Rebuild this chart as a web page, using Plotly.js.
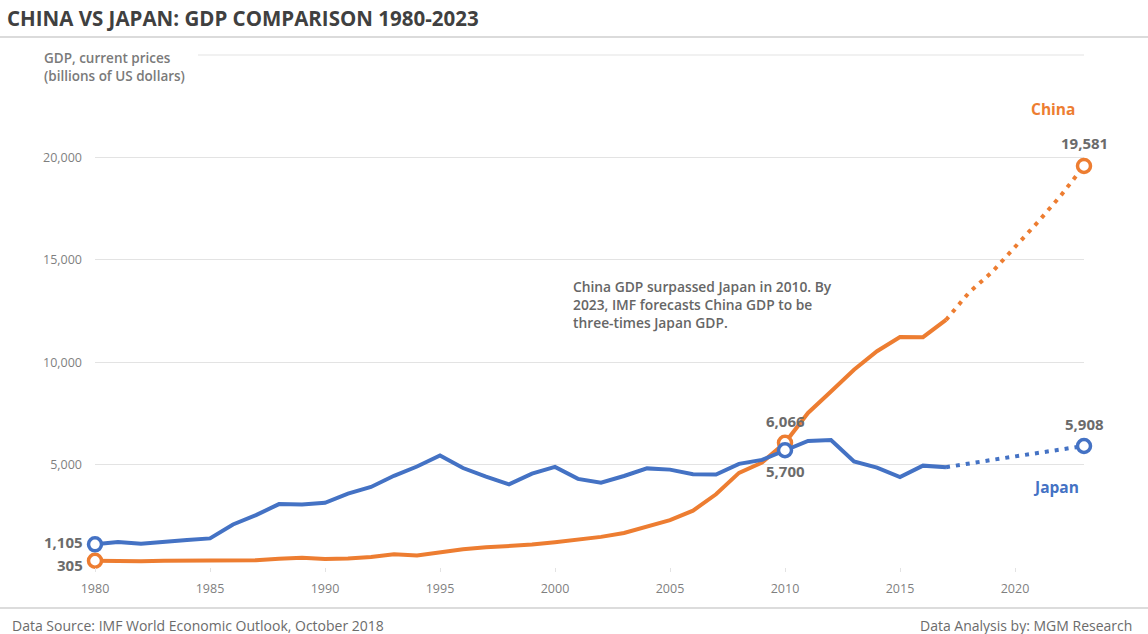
<!DOCTYPE html>
<html>
<head>
<meta charset="utf-8">
<script src="https://cdn.plot.ly/plotly-3.0.1.min.js"></script>
<style>html,body{margin:0;padding:0;background:#fff;}#chart{width:1148px;height:634px;}</style>
</head>
<body>
<div id="chart"></div>
<script>
// ---- data (billions of US dollars, current prices) ----
const years = [1980,1981,1982,1983,1984,1985,1986,1987,1988,1989,1990,1991,1992,1993,1994,1995,1996,1997,1998,1999,2000,2001,2002,2003,2004,2005,2006,2007,2008,2009,2010,2011,2012,2013,2014,2015,2016,2017,2018,2019,2020,2021,2022,2023];
const japanGDP = [1105,1218,1134,1243,1318,1398,2078,2532,3072,3055,3133,3585,3909,4454,4907,5449,4834,4415,4033,4562,4888,4304,4115,4445,4815,4755,4530,4515,5038,5231,5700,6157,6203,5156,4850,4395,4949,4872,5071,5230,5400,5560,5740,5908];
const chinaGDP = [305,288,284,306,315,310,301,327,408,457,395,415,493,617,564,734,863,962,1029,1094,1211,1339,1471,1660,1955,2286,2752,3550,4594,5102,6066,7522,8570,9635,10535,11226,11222,12062,13400,14400,15600,16850,18150,19581];
const lastActualYear = 2017;
const highlightYears = [1980, 2010, 2023];
const yTickVals = [0,5000,10000,15000,20000,25000];
const yTickText = ['','5,000','10,000','15,000','20,000',''];
const xTickVals = [1980,1985,1990,1995,2000,2005,2010,2015,2020];

const BLUE = '#4472C4', ORANGE = '#ED7D31', GRAY = '#7f7f7f';

function split(vals){
  const ax=[],ay=[],fx=[],fy=[];
  years.forEach((y,i)=>{
    if(y<=lastActualYear){ax.push(y);ay.push(vals[i]);}
    if(y>=lastActualYear){fx.push(y);fy.push(vals[i]);}
  });
  return {ax,ay,fx,fy};
}
function pts(vals){
  const x=[],y=[];
  highlightYears.forEach(h=>{const i=years.indexOf(h);x.push(h);y.push(vals[i]);});
  return {x,y};
}
function fmt(v){return v.toLocaleString('en-US');}

const c = split(chinaGDP), j = split(japanGDP);
const cp = pts(chinaGDP), jp = pts(japanGDP);

const traces = [
  {x:c.ax,y:c.ay,mode:'lines',line:{color:ORANGE,width:4},hoverinfo:'skip'},
  {x:c.fx,y:c.fy,mode:'lines',line:{color:ORANGE,width:4,dash:'4px,6px'},hoverinfo:'skip'},
  {x:cp.x,y:cp.y,mode:'markers',cliponaxis:false,marker:{size:13,color:'#fff',line:{color:ORANGE,width:3.5}},hoverinfo:'skip'},
  {x:j.ax,y:j.ay,mode:'lines',line:{color:BLUE,width:4},hoverinfo:'skip'},
  {x:j.fx,y:j.fy,mode:'lines',line:{color:BLUE,width:4,dash:'4px,6px'},hoverinfo:'skip'},
  {x:jp.x,y:jp.y,mode:'markers',cliponaxis:false,marker:{size:13,color:'#fff',line:{color:BLUE,width:3.5}},hoverinfo:'skip'}
];

const FONT = 'Open Sans, Liberation Sans, sans-serif';
const lblFont = {family:FONT,size:15,color:'#6b6b6b',weight:700};

const L = 95, R = 64, T = 55, B = 67, W = 1148, H = 634;
const plotH = H-T-B, plotW = W-L-R;
const px = x => (x-L)/plotW;           // pixel x -> paper
const py = y => (H-B-y)/plotH;         // pixel y -> paper

const annotations = [
  {xref:'paper',yref:'paper',x:px(5),y:py(18),xanchor:'left',yanchor:'middle',showarrow:false,
   text:'<b>CHINA VS JAPAN: GDP COMPARISON 1980-2023</b>',font:{family:FONT,size:20.5,color:'#404040'}},
  {xref:'paper',yref:'paper',x:px(42),y:py(47),xanchor:'left',yanchor:'top',align:'left',showarrow:false,
   text:'GDP, current prices<br>(billions of US dollars)',font:{family:FONT,size:13.5,color:'#7a7a7a',weight:600}},
  {xref:'paper',yref:'paper',x:px(10),y:py(625),xanchor:'left',yanchor:'middle',showarrow:false,
   text:'Data Source: IMF World Economic Outlook, October 2018',font:{family:FONT,size:14,color:'#6b6b6b'}},
  {xref:'paper',yref:'paper',x:px(1134),y:py(625),xanchor:'right',yanchor:'middle',showarrow:false,
   text:'Data Analysis by: MGM Research',font:{family:FONT,size:14,color:'#6b6b6b'}},
  {xref:'paper',yref:'paper',x:px(571),y:py(275),xanchor:'left',yanchor:'top',align:'left',showarrow:false,
   text:'China GDP surpassed Japan in 2010. By<br>2023, IMF forecasts China GDP to be<br>three-times Japan GDP.',
   font:{family:FONT,size:13.8,color:'#666',weight:600}},
  {xref:'paper',yref:'paper',x:px(1053),y:py(109),xanchor:'center',yanchor:'middle',showarrow:false,
   text:'China',font:{family:FONT,size:15.5,color:ORANGE,weight:700}},
  {xref:'paper',yref:'paper',x:px(1056),y:py(487),xanchor:'center',yanchor:'middle',showarrow:false,
   text:'Japan',font:{family:FONT,size:15.5,color:BLUE,weight:700}},
  // data labels
  {xref:'x',yref:'y',x:jp.x[0],y:jp.y[0],xanchor:'right',yanchor:'middle',xshift:-10,yshift:2,showarrow:false,text:fmt(jp.y[0]),font:lblFont},
  {xref:'x',yref:'y',x:cp.x[0],y:cp.y[0],xanchor:'right',yanchor:'middle',xshift:-10,yshift:-4,showarrow:false,text:fmt(cp.y[0]),font:lblFont},
  {xref:'x',yref:'y',x:cp.x[1],y:cp.y[1],xanchor:'center',yanchor:'bottom',yshift:10,showarrow:false,text:fmt(cp.y[1]),font:lblFont},
  {xref:'x',yref:'y',x:jp.x[1],y:jp.y[1],xanchor:'center',yanchor:'top',yshift:-9,showarrow:false,text:fmt(jp.y[1]),font:lblFont},
  {xref:'x',yref:'y',x:cp.x[2],y:cp.y[2],xanchor:'center',yanchor:'bottom',yshift:11,showarrow:false,text:fmt(cp.y[2]),font:lblFont},
  {xref:'x',yref:'y',x:jp.x[2],y:jp.y[2],xanchor:'center',yanchor:'bottom',yshift:10,showarrow:false,text:fmt(jp.y[2]),font:lblFont}
];

const shapes = [
  {type:'line',xref:'paper',yref:'paper',x0:px(0),x1:px(W),y0:py(37),y1:py(37),line:{color:'#cfcfcf',width:1.5}},
  {type:'line',xref:'paper',yref:'paper',x0:px(0),x1:px(W),y0:py(608),y1:py(608),line:{color:'#d0d0d0',width:1.5}},
  // top gridline (25,000), partly hidden behind the axis title in the original
  {type:'line',xref:'paper',yref:'paper',x0:px(198),x1:1,y0:1,y1:1,line:{color:'#e3e3e3',width:1},layer:'above'}
];

const layout = {
  width:W,height:H,
  margin:{l:L,r:R,t:T,b:B},
  paper_bgcolor:'#fff',plot_bgcolor:'#fff',
  showlegend:false,
  font:{family:FONT,color:GRAY},
  xaxis:{range:[1980,2023],tickvals:xTickVals,showgrid:false,zeroline:false,showline:false,
    ticks:'outside',ticklen:4,tickcolor:'#e3e3e3',ticklabelstandoff:6,
    tickfont:{family:FONT,size:12.5,color:'#7f7f7f'},fixedrange:true},
  yaxis:{range:[yTickVals[0],yTickVals[yTickVals.length-1]],tickvals:yTickVals.slice(0,-1),ticktext:yTickText.slice(0,-1),showgrid:true,gridcolor:'#e3e3e3',gridwidth:1,
    zeroline:false,showline:false,ticks:'',ticklabelstandoff:12,
    tickfont:{family:FONT,size:12.5,color:'#7f7f7f'},fixedrange:true},
  annotations:annotations,
  shapes:shapes
};

Plotly.newPlot('chart', traces, layout, {displayModeBar:false,staticPlot:true});
</script>
</body>
</html>
